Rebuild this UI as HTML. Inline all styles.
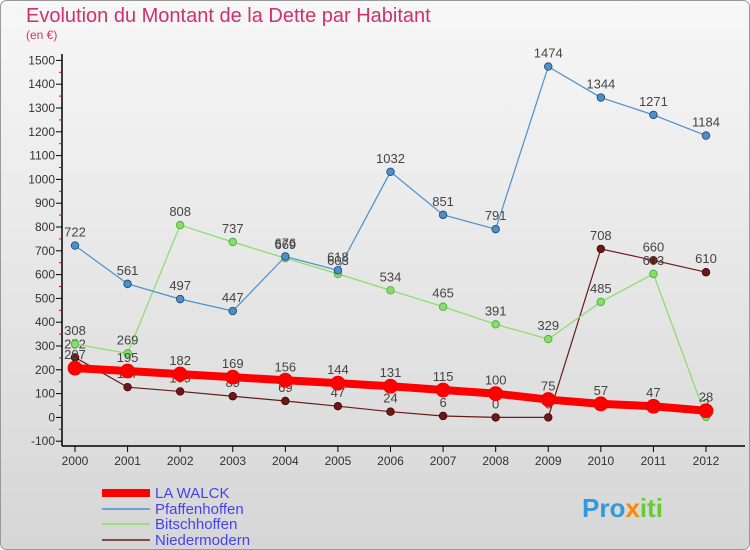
<!DOCTYPE html>
<html><head><meta charset="utf-8">
<style>
body{margin:0;}
#c{width:750px;height:550px;position:relative;overflow:hidden;font-family:"Liberation Sans","DejaVu Sans",sans-serif;}
</style></head><body>
<div id="c">
<svg id="s" width="750" height="550" xmlns="http://www.w3.org/2000/svg">
<defs><linearGradient id="bg" x1="0" y1="0" x2="0" y2="1"><stop offset="0" stop-color="#f7f7f7"/><stop offset="1" stop-color="#d6d6d6"/></linearGradient></defs>
<rect x="0.5" y="0.5" width="749" height="549" rx="6" fill="url(#bg)" stroke="#999"/>
<text x="26" y="22" font-size="20" fill="#d0306c">Evolution du Montant de la Dette par Habitant</text>
<text x="26" y="39" font-size="12" fill="#d0306c">(en €)</text>
<g id="axes"></g><g id="series"></g>
<g font-size="15">
<line x1="102" y1="493" x2="150" y2="493" stroke="#ff0000" stroke-width="8"/>
<text x="155" y="498" fill="#4444ee">LA WALCK</text>
<line x1="102" y1="509" x2="150" y2="509" stroke="#4a90cc" stroke-width="1.5"/>
<text x="155" y="514" fill="#4444ee">Pfaffenhoffen</text>
<line x1="102" y1="524" x2="150" y2="524" stroke="#88dd66" stroke-width="1.5"/>
<text x="155" y="529" fill="#4444ee">Bitschhoffen</text>
<line x1="102" y1="540" x2="150" y2="540" stroke="#6b1a1a" stroke-width="1.5"/>
<text x="155" y="545" fill="#4444ee">Niedermodern</text>
</g>
<text x="582" y="517" font-size="26" font-weight="bold" fill="#3399dd">Pro<tspan fill="#ff8800">x</tspan><tspan fill="#66cc33">iti</tspan></text>
</svg>
</div>
<script>
const years=[2000,2001,2002,2003,2004,2005,2006,2007,2008,2009,2010,2011,2012];
const yTicks=[-100,0,100,200,300,400,500,600,700,800,900,1000,1100,1200,1300,1400,1500];
const laWalck=[207,195,182,169,156,144,131,115,100,75,57,47,28];
const pfaffenhoffen=[722,561,497,447,676,618,1032,851,791,1474,1344,1271,1184];
const bitschhoffen=[308,269,808,737,669,603,534,465,391,329,485,603,2];
const niedermodern=[252,127,109,89,69,47,24,6,0,0,708,660,610];
const NS="http://www.w3.org/2000/svg";
function X(i){return 75+i*(706-75)/(years.length-1);}
function Y(v){return 417.4-v*0.238;}
function mk(t,a,p){const e=document.createElementNS(NS,t);for(const k in a)e.setAttribute(k,a[k]);p.appendChild(e);return e;}
const ax=document.getElementById('axes'),sr=document.getElementById('series');
let l=mk('line',{x1:62,y1:54,x2:62,y2:446,stroke:'#000','stroke-width':1.5},ax);


l=mk('line',{x1:62,y1:446,x2:745,y2:446,stroke:'#000','stroke-width':1.5},ax);


yTicks.forEach((v,i)=>{const y=Y(v);
 mk('line',{x1:56,y1:y,x2:62,y2:y,stroke:'#000'},ax);
 if(i<yTicks.length-1)mk('line',{x1:59,y1:Y(v+50),x2:62,y2:Y(v+50),stroke:'#e00'},ax);
 const t=mk('text',{x:55,y:y+4,'font-size':12,fill:'#333','text-anchor':'end'},ax);t.textContent=v;
 
 
});
years.forEach((yr,i)=>{const x=X(i);
 mk('line',{x1:x,y1:446,x2:x,y2:452,stroke:'#000'},ax);
 const t=mk('text',{x:x,y:465,'font-size':12,fill:'#333','text-anchor':'middle'},ax);t.textContent=yr;
 
 
});
function series(d,col,w,r,name,dark){
 const g=mk('g',{},sr);
 
 
 mk('polyline',{points:d.map((v,i)=>X(i)+','+Y(v)).join(' '),fill:'none',stroke:col,'stroke-width':w},g);
 d.forEach((v,i)=>{const c=mk('circle',{cx:X(i),cy:Y(v),r:r,fill:col,stroke:dark,'stroke-width':0.8},g);
  
  
  const t=mk('text',{x:X(i),y:Y(v)-9,'font-size':13,fill:'#444','text-anchor':'middle'},g);t.textContent=v;
 });
}
series(niedermodern,'#6b1a1a',1.2,3.8,'niedermodern','#400');
series(bitschhoffen,'#88dd66',1.2,3.8,'bitschhoffen','#4a4');
series(pfaffenhoffen,'#4a90cc',1.2,3.8,'pfaffenhoffen','#246');
series(laWalck,'#ff0000',8,7,'la-walck','#e00');
</script>
</body></html>
